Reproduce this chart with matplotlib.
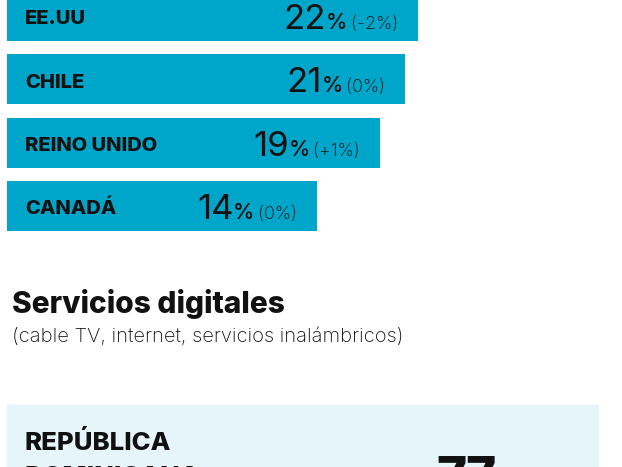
import numpy as np
import matplotlib.pyplot as plt
from matplotlib.patches import Rectangle

countries = ['EE.UU', 'CHILE', 'REINO UNIDO', 'CANADÁ']
shares = np.array([22, 21, 19, 14])
changes = ['(-2%)', '(0%)', '(+1%)', '(0%)']

section_title = 'Servicios digitales'
section_note = '(cable TV, internet, servicios inalámbricos)'
next_country = ['REPÚBLICA', 'DOMINICANA']
next_share = 77

BAR = '#00A6CA'
PANEL = '#E5F5FA'
INK = '#111111'
W, H = 622, 467

plt.rcParams['font.family'] = ['Inter', 'DejaVu Sans']

fig = plt.figure(figsize=(W / 100, H / 100), dpi=100)
ax = fig.add_axes([0, 0, 1, 1])

# bar length: 12.6 px per point, bars start 10.55 points left of zero
px_per_pt = 12.625
offset = 10.55
x0 = -offset - 7 / px_per_pt
ax.set_xlim(x0, x0 + W / px_per_pt)
ax.set_ylim(H, 0)
ax.axis('off')

centers = 15.7 + 63.5 * np.arange(len(countries))
ax.barh(centers, shares + offset, left=-offset, height=50, color=BAR)

for yc, name, val, chg in zip(centers, countries, shares, changes):
    ax.annotate(name, xy=(-offset, yc + 8.3), xytext=(13, 0), textcoords='offset points',
                ha='left', va='baseline', fontsize=14.5, fontweight='heavy', color=INK)
    t_chg = ax.annotate(chg, xy=(val, yc + 13), xytext=(-14.5, 0), textcoords='offset points',
                        ha='right', va='baseline', fontsize=13, fontweight='light', color=INK)
    t_pct = ax.annotate('%', xy=(0, yc + 13), xycoords=(t_chg, 'data'), xytext=(-2.5, 0),
                        textcoords='offset points', ha='right', va='baseline',
                        fontsize=15.5, fontweight='medium', color=INK)
    ax.annotate(f'{val}', xy=(0, yc + 13), xycoords=(t_pct, 'data'), xytext=(0.3, 0),
                textcoords='offset points', ha='right', va='baseline',
                fontsize=25, fontweight='normal', color=INK)


def fx(x):
    return x / W


def fy(y):
    return 1 - y / H


fig.text(fx(12), fy(313), section_title, fontsize=21.5, fontweight='heavy', color=INK, va='baseline')
fig.text(fx(12), fy(342), section_note, fontsize=14.5, fontweight='light', color=INK, va='baseline')

fig.patches.append(Rectangle((fx(7), 0), fx(591), (H - 405) / H,
                             transform=fig.transFigure, color=PANEL, zorder=0))
fig.text(fx(25), fy(450), next_country[0], fontsize=18.5, fontweight='heavy', color=INK, va='baseline')
fig.text(fx(25), fy(483.5), next_country[1], fontsize=18.5, fontweight='heavy', color=INK, va='baseline')
fig.text(fx(436), fy(494), f'{next_share}', fontsize=37, fontweight='heavy', color=INK, va='baseline')
fig.text(fx(491), fy(494), '%', fontsize=23, fontweight='heavy', color=INK, va='baseline')

fig.savefig('out.png', dpi=100)
